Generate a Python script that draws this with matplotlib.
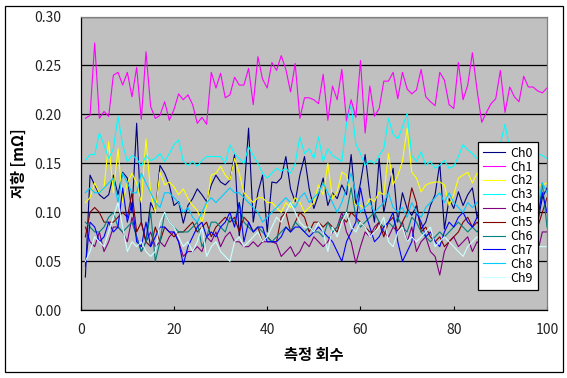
import numpy as np
import matplotlib
matplotlib.use("Agg")
import matplotlib.pyplot as plt
from matplotlib.patches import Rectangle
from matplotlib.ticker import FormatStrFormatter

plt.rcParams['font.family'] = ['Noto Sans CJK KR', 'DejaVu Sans']

# measurement index 1..100
runs = np.arange(1, 101)

ch0 = [0.034, 0.138, 0.128, 0.118, 0.114, 0.118, 0.138, 0.118, 0.141, 0.135, 0.100, 0.191, 0.090, 0.070, 0.110, 0.100, 0.148,
       0.140, 0.128, 0.107, 0.111, 0.089, 0.107, 0.114, 0.124, 0.118, 0.111, 0.128, 0.138, 0.131, 0.128, 0.133, 0.159,
       0.076, 0.118, 0.186, 0.090, 0.120, 0.138, 0.080, 0.131, 0.130, 0.135, 0.157, 0.124, 0.111, 0.138, 0.157, 0.124, 0.104,
       0.118, 0.135, 0.107, 0.120, 0.114, 0.128, 0.118, 0.159, 0.107, 0.130, 0.159, 0.118, 0.090, 0.155, 0.100, 0.124, 0.145,
       0.090, 0.120, 0.104, 0.097, 0.107, 0.083, 0.090, 0.107, 0.118, 0.150, 0.083, 0.114, 0.104, 0.121, 0.107, 0.118,
       0.125, 0.095, 0.110, 0.100, 0.120, 0.105, 0.115, 0.095, 0.110, 0.120, 0.100, 0.105, 0.115, 0.100, 0.090, 0.115, 0.125]
ch1 = [0.196, 0.199, 0.273, 0.196, 0.203, 0.198, 0.240, 0.243, 0.230, 0.243, 0.218, 0.248, 0.195, 0.264, 0.208, 0.196, 0.199,
       0.213, 0.194, 0.205, 0.221, 0.215, 0.220, 0.210, 0.191, 0.197, 0.190, 0.243, 0.227, 0.242, 0.217, 0.220, 0.238,
       0.230, 0.230, 0.247, 0.210, 0.259, 0.236, 0.227, 0.253, 0.245, 0.260, 0.246, 0.223, 0.252, 0.196, 0.217, 0.217, 0.215,
       0.211, 0.241, 0.194, 0.229, 0.215, 0.246, 0.193, 0.215, 0.197, 0.255, 0.181, 0.229, 0.198, 0.206, 0.234, 0.234, 0.243,
       0.216, 0.243, 0.226, 0.221, 0.225, 0.246, 0.218, 0.213, 0.209, 0.243, 0.235, 0.210, 0.206, 0.253, 0.215, 0.230,
       0.263, 0.225, 0.192, 0.202, 0.211, 0.216, 0.245, 0.202, 0.228, 0.218, 0.213, 0.239, 0.228, 0.228, 0.224, 0.222, 0.227]
ch2 = [0.110, 0.115, 0.130, 0.120, 0.125, 0.172, 0.120, 0.165, 0.110, 0.130, 0.140, 0.130, 0.110, 0.175, 0.120, 0.100, 0.141,
       0.128, 0.131, 0.126, 0.118, 0.124, 0.114, 0.107, 0.102, 0.090, 0.107, 0.138, 0.140, 0.147, 0.138, 0.133, 0.155,
       0.140, 0.120, 0.115, 0.110, 0.115, 0.115, 0.110, 0.110, 0.105, 0.100, 0.110, 0.105, 0.115, 0.110, 0.100, 0.105, 0.110,
       0.128, 0.118, 0.150, 0.114, 0.121, 0.141, 0.138, 0.118, 0.107, 0.107, 0.104, 0.114, 0.111, 0.121, 0.118, 0.160, 0.128,
       0.138, 0.152, 0.186, 0.141, 0.135, 0.121, 0.128, 0.130, 0.131, 0.131, 0.128, 0.107, 0.118, 0.135, 0.138, 0.141,
       0.130, 0.140, 0.138, 0.135, 0.130, 0.125, 0.128, 0.130, 0.132, 0.128, 0.125, 0.130, 0.128, 0.126, 0.128, 0.128, 0.130]
ch3 = [0.153, 0.159, 0.159, 0.181, 0.169, 0.155, 0.165, 0.198, 0.169, 0.152, 0.158, 0.155, 0.147, 0.158, 0.153, 0.155, 0.160,
       0.152, 0.160, 0.169, 0.174, 0.152, 0.148, 0.152, 0.147, 0.153, 0.157, 0.157, 0.157, 0.157, 0.150, 0.169, 0.160,
       0.155, 0.150, 0.167, 0.158, 0.150, 0.140, 0.135, 0.140, 0.145, 0.142, 0.145, 0.140, 0.150, 0.177, 0.160, 0.165, 0.155,
       0.177, 0.152, 0.165, 0.158, 0.155, 0.152, 0.190, 0.210, 0.170, 0.160, 0.148, 0.153, 0.150, 0.158, 0.165, 0.196, 0.180,
       0.175, 0.187, 0.201, 0.158, 0.152, 0.162, 0.148, 0.152, 0.145, 0.148, 0.153, 0.145, 0.147, 0.157, 0.169, 0.164,
       0.160, 0.155, 0.150, 0.160, 0.155, 0.165, 0.170, 0.190, 0.165, 0.160, 0.158, 0.162, 0.160, 0.158, 0.160, 0.158, 0.155]
ch4 = [0.085, 0.070, 0.065, 0.080, 0.060, 0.070, 0.085, 0.085, 0.080, 0.070, 0.095, 0.075, 0.060, 0.070, 0.080, 0.065, 0.070,
       0.065, 0.075, 0.080, 0.070, 0.055, 0.060, 0.060, 0.065, 0.060, 0.075, 0.070, 0.080, 0.065, 0.075, 0.080, 0.070,
       0.070, 0.065, 0.065, 0.070, 0.065, 0.070, 0.070, 0.070, 0.068, 0.055, 0.060, 0.065, 0.055, 0.060, 0.070, 0.065, 0.075,
       0.070, 0.065, 0.070, 0.080, 0.085, 0.100, 0.080, 0.070, 0.048, 0.065, 0.080, 0.075, 0.085, 0.090, 0.080, 0.075, 0.085,
       0.080, 0.090, 0.070, 0.085, 0.060, 0.070, 0.075, 0.060, 0.055, 0.036, 0.060, 0.070, 0.075, 0.065, 0.070, 0.075,
       0.060, 0.070, 0.065, 0.075, 0.070, 0.065, 0.070, 0.075, 0.070, 0.065, 0.070, 0.060, 0.065, 0.060, 0.060, 0.080, 0.080]
ch5 = [0.075, 0.100, 0.105, 0.100, 0.090, 0.090, 0.090, 0.095, 0.100, 0.095, 0.120, 0.080, 0.090, 0.070, 0.065, 0.085, 0.070,
       0.085, 0.080, 0.075, 0.080, 0.080, 0.085, 0.090, 0.080, 0.085, 0.090, 0.075, 0.085, 0.090, 0.095, 0.090, 0.095,
       0.080, 0.095, 0.090, 0.080, 0.085, 0.070, 0.075, 0.070, 0.070, 0.095, 0.100, 0.080, 0.090, 0.100, 0.095, 0.080, 0.090,
       0.090, 0.085, 0.090, 0.085, 0.080, 0.095, 0.090, 0.100, 0.095, 0.090, 0.085, 0.080, 0.080, 0.090, 0.075, 0.090, 0.095,
       0.080, 0.090, 0.100, 0.125, 0.110, 0.080, 0.085, 0.075, 0.070, 0.075, 0.065, 0.070, 0.075, 0.080, 0.090, 0.095,
       0.085, 0.090, 0.085, 0.080, 0.090, 0.085, 0.080, 0.090, 0.085, 0.090, 0.080, 0.085, 0.090, 0.085, 0.085, 0.100, 0.115]
ch6 = [0.090, 0.085, 0.080, 0.080, 0.085, 0.095, 0.100, 0.085, 0.080, 0.085, 0.090, 0.075, 0.060, 0.070, 0.100, 0.050, 0.070,
       0.100, 0.090, 0.085, 0.080, 0.080, 0.080, 0.085, 0.090, 0.065, 0.075, 0.090, 0.090, 0.085, 0.080, 0.095, 0.090,
       0.110, 0.090, 0.085, 0.080, 0.085, 0.080, 0.075, 0.070, 0.075, 0.080, 0.085, 0.080, 0.090, 0.085, 0.080, 0.085, 0.080,
       0.080, 0.075, 0.090, 0.080, 0.085, 0.095, 0.100, 0.125, 0.095, 0.085, 0.090, 0.095, 0.100, 0.090, 0.085, 0.090, 0.085,
       0.095, 0.085, 0.080, 0.095, 0.090, 0.080, 0.075, 0.070, 0.075, 0.080, 0.075, 0.080, 0.085, 0.090, 0.085, 0.080,
       0.085, 0.080, 0.085, 0.090, 0.085, 0.080, 0.085, 0.090, 0.085, 0.080, 0.085, 0.090, 0.085, 0.090, 0.090, 0.130, 0.085]
ch7 = [0.045, 0.090, 0.085, 0.070, 0.075, 0.090, 0.080, 0.085, 0.125, 0.090, 0.110, 0.070, 0.065, 0.090, 0.065, 0.075, 0.085,
       0.085, 0.080, 0.080, 0.070, 0.047, 0.065, 0.075, 0.085, 0.090, 0.075, 0.080, 0.075, 0.085, 0.090, 0.100, 0.085,
       0.110, 0.070, 0.090, 0.080, 0.085, 0.085, 0.070, 0.070, 0.070, 0.075, 0.085, 0.080, 0.085, 0.085, 0.080, 0.075, 0.080,
       0.085, 0.080, 0.075, 0.070, 0.060, 0.050, 0.070, 0.080, 0.090, 0.125, 0.100, 0.085, 0.070, 0.075, 0.085, 0.090, 0.100,
       0.070, 0.050, 0.060, 0.070, 0.100, 0.090, 0.075, 0.080, 0.070, 0.065, 0.080, 0.090, 0.085, 0.095, 0.100, 0.090,
       0.085, 0.095, 0.090, 0.085, 0.090, 0.095, 0.090, 0.085, 0.090, 0.095, 0.090, 0.085, 0.090, 0.095, 0.095, 0.120, 0.100]
ch8 = [0.120, 0.125, 0.120, 0.120, 0.125, 0.130, 0.135, 0.110, 0.140, 0.130, 0.120, 0.120, 0.140, 0.130, 0.120, 0.110, 0.105,
       0.120, 0.120, 0.115, 0.110, 0.100, 0.105, 0.095, 0.090, 0.100, 0.110, 0.115, 0.110, 0.115, 0.120, 0.125, 0.120,
       0.120, 0.115, 0.110, 0.105, 0.100, 0.090, 0.095, 0.100, 0.105, 0.110, 0.115, 0.110, 0.105, 0.115, 0.120, 0.110, 0.115,
       0.120, 0.130, 0.120, 0.110, 0.100, 0.110, 0.125, 0.140, 0.120, 0.100, 0.105, 0.110, 0.100, 0.105, 0.110, 0.120, 0.105,
       0.100, 0.105, 0.095, 0.110, 0.100, 0.095, 0.105, 0.110, 0.115, 0.120, 0.110, 0.120, 0.110, 0.105, 0.100, 0.110,
       0.105, 0.110, 0.115, 0.110, 0.105, 0.110, 0.115, 0.110, 0.105, 0.110, 0.115, 0.110, 0.105, 0.110, 0.105, 0.130, 0.120]
ch9 = [0.050, 0.060, 0.075, 0.070, 0.065, 0.080, 0.095, 0.110, 0.085, 0.060, 0.070, 0.065, 0.070, 0.060, 0.055, 0.060, 0.090,
       0.100, 0.090, 0.085, 0.075, 0.065, 0.070, 0.060, 0.070, 0.085, 0.055, 0.065, 0.070, 0.060, 0.055, 0.050, 0.070,
       0.075, 0.065, 0.070, 0.075, 0.080, 0.070, 0.075, 0.085, 0.095, 0.090, 0.100, 0.110, 0.100, 0.090, 0.085, 0.085, 0.080,
       0.090, 0.080, 0.060, 0.085, 0.075, 0.090, 0.100, 0.085, 0.080, 0.090, 0.085, 0.075, 0.080, 0.085, 0.095, 0.070, 0.065,
       0.080, 0.085, 0.070, 0.075, 0.070, 0.075, 0.080, 0.085, 0.065, 0.070, 0.075, 0.070, 0.065, 0.060, 0.055, 0.065,
       0.070, 0.075, 0.070, 0.065, 0.070, 0.075, 0.070, 0.065, 0.070, 0.075, 0.070, 0.065, 0.070, 0.065, 0.065, 0.065, 0.065]

names = ['Ch0', 'Ch1', 'Ch2', 'Ch3', 'Ch4', 'Ch5', 'Ch6', 'Ch7', 'Ch8', 'Ch9']
series = [ch0, ch1, ch2, ch3, ch4, ch5, ch6, ch7, ch8, ch9]
colors = ['#000080', '#FF00FF', '#FFFF00', '#00FFFF', '#800080',
          '#800000', '#008080', '#0000FF', '#00CCFF', '#CCFFFF']

fig = plt.figure(figsize=(5.67, 3.78), dpi=100, facecolor='w')
# outer chart border
fig.patches.append(Rectangle((5/567, 6/378), 558/567, 366/378, transform=fig.transFigure,
                             fill=False, edgecolor='k', linewidth=0.9))

ax = fig.add_axes([80.7/567, 67.7/378, 466.3/567, 293.8/378])
ax.set_facecolor('#C0C0C0')

for name, vals, c in zip(names, series, colors):
    ax.plot(runs, vals, color=c, linewidth=0.8, label=name)

ax.set_xlim(0, 100)
ax.set_ylim(0, 0.30)
ax.set_xticks(np.arange(0, 101, 20))
ax.set_yticks(np.arange(0, 0.301, 0.05))
ax.yaxis.set_major_formatter(FormatStrFormatter('%.2f'))
ax.grid(axis='y', color='k', linewidth=0.9)
ax.set_axisbelow(True)

ax.tick_params(axis='x', direction='in', length=3, width=0.8, pad=9, labelsize=10, labelcolor='#222222')
ax.tick_params(axis='y', direction='in', length=0, pad=14, labelsize=10, labelcolor='#222222')
for s in ['left', 'bottom']:
    ax.spines[s].set_color('k')
    ax.spines[s].set_linewidth(0.9)
for s in ['top', 'right']:
    ax.spines[s].set_color('#808080')
    ax.spines[s].set_linewidth(0.9)

ax.set_xlabel('측정 회수', fontsize=11, fontweight='bold', labelpad=7)
ax.set_ylabel('저항 [mΩ]', fontsize=11, fontweight='bold', labelpad=5)

leg = ax.legend(loc='upper left', bbox_to_anchor=(0.852, 0.574), borderaxespad=0,
                fontsize=9, labelspacing=0.07, handlelength=1.8, handletextpad=0.4,
                borderpad=0.4, fancybox=False, framealpha=1, edgecolor='k')
leg.get_frame().set_linewidth(0.9)

fig.savefig('out.png', dpi=100)
